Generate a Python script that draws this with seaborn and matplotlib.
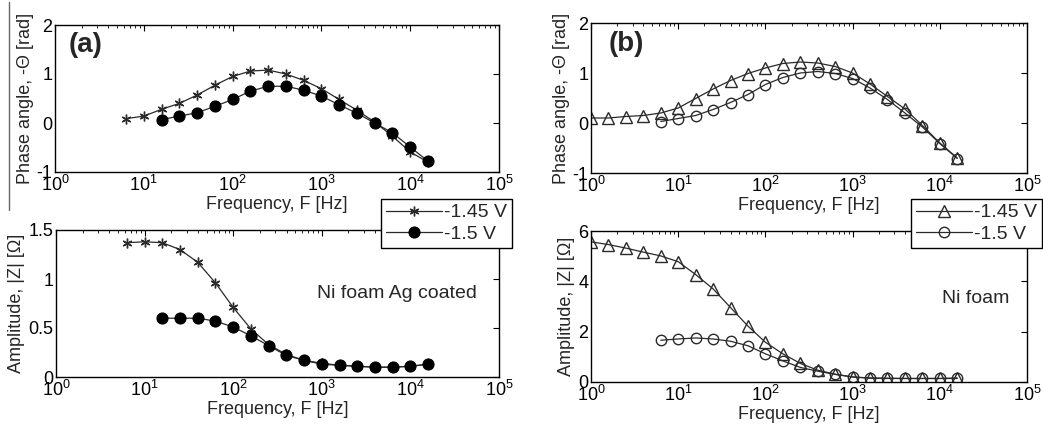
import matplotlib
matplotlib.use("Agg")
import matplotlib.pyplot as plt
from matplotlib.lines import Line2D
from matplotlib.ticker import LogLocator, NullFormatter
import seaborn as sns
import pandas as pd

sns.set_theme(style="white")
plt.rcParams['font.family'] = ['Liberation Sans', 'DejaVu Sans']
plt.rcParams['mathtext.fontset'] = 'custom'
plt.rcParams['mathtext.rm'] = 'Liberation Sans'

# ---------------- data ----------------
freq_a = [6.31, 10, 15.85, 25.12, 39.81, 63.1, 100, 158.5, 251.2, 398.1, 631, 1000,
          1585, 2512, 3981, 6310, 10000, 15849]
freq_a2 = [15.85, 25.12, 39.81, 63.1, 100, 158.5, 251.2, 398.1, 631, 1000,
           1585, 2512, 3981, 6310, 10000, 15849]
freq_b = [1, 1.585, 2.512, 3.981, 6.31, 10, 15.85, 25.12, 39.81, 63.1, 100, 158.5,
          251.2, 398.1, 631, 1000, 1585, 2512, 3981, 6310, 10000, 15849]
freq_b2 = [6.31, 10, 15.85, 25.12, 39.81, 63.1, 100, 158.5, 251.2, 398.1, 631, 1000,
           1585, 2512, 3981, 6310, 10000, 15849]

phase_a_145 = [0.09, 0.14, 0.28, 0.40, 0.57, 0.77, 0.95, 1.06, 1.08, 1.00, 0.87, 0.70,
               0.48, 0.26, 0.02, -0.27, -0.59, -0.80]
phase_a_150 = [0.07, 0.14, 0.21, 0.34, 0.48, 0.65, 0.75, 0.75, 0.67, 0.55,
               0.37, 0.20, 0.00, -0.20, -0.49, -0.78]
amp_a_145 = [1.37, 1.38, 1.37, 1.30, 1.17, 0.96, 0.71, 0.49, 0.33, 0.23, 0.17, 0.14,
             0.12, 0.11, 0.10, 0.10, 0.11, 0.13]
amp_a_150 = [0.60, 0.60, 0.60, 0.57, 0.51, 0.42, 0.32, 0.22, 0.17, 0.13,
             0.12, 0.11, 0.10, 0.10, 0.11, 0.13]

phase_b_145 = [0.10, 0.10, 0.13, 0.15, 0.20, 0.30, 0.49, 0.68, 0.85, 0.99, 1.10, 1.19,
               1.22, 1.20, 1.13, 1.00, 0.78, 0.53, 0.28, -0.05, -0.40, -0.70]
phase_b_150 = [0.03, 0.09, 0.15, 0.27, 0.41, 0.57, 0.77, 0.91, 1.00, 1.03, 0.99, 0.89,
               0.70, 0.47, 0.20, -0.08, -0.41, -0.71]
amp_b_145 = [5.57, 5.46, 5.32, 5.16, 5.01, 4.78, 4.27, 3.70, 2.96, 2.22, 1.58, 1.12,
             0.74, 0.47, 0.31, 0.20, 0.16, 0.15, 0.14, 0.14, 0.14, 0.14]
amp_b_150 = [1.66, 1.71, 1.75, 1.71, 1.62, 1.44, 1.12, 0.84, 0.58, 0.43, 0.30, 0.20,
             0.15, 0.14, 0.14, 0.14, 0.14, 0.16]

series_labels = ["-1.45 V", "-1.5 V"]
xlabel = "Frequency, F [Hz]"
ylabel_phase = "Phase angle, -\u0398 [rad]"
ylabel_amp = "Amplitude, |Z| [\u03a9]"
yticks_phase = [-1, 0, 1, 2]
yticks_amp_a = [0, 0.5, 1, 1.5]
yticks_amp_b = [0, 2, 4, 6]

# ---------------- figure ----------------
W, H = 1043, 428
fig = plt.figure(figsize=(W / 100, H / 100), dpi=100)

def rect(x0, y0, x1, y1):
    return [x0 / W, 1 - y1 / H, (x1 - x0) / W, (y1 - y0) / H]

ax_tl = fig.add_axes(rect(55, 25, 499, 172))
ax_tr = fig.add_axes(rect(591, 23, 1027, 173))
ax_bl = fig.add_axes(rect(56, 230, 499, 377))
ax_br = fig.add_axes(rect(591, 231, 1027, 382))

LC = "#2a2a2a"
star = dict(marker=(6, 2, 0), markersize=7, markeredgewidth=1.0,
            markeredgecolor=LC, markerfacecolor=LC)
dot = dict(marker="o", markersize=8, markeredgecolor="black",
           markerfacecolor="black")
tri = dict(marker="^", markersize=8.5, markeredgewidth=1.0,
           markeredgecolor=LC, markerfacecolor="none")
circ = dict(marker="o", markersize=7.5, markeredgewidth=1.0,
            markeredgecolor=LC, markerfacecolor="none")

def draw(ax, x, y, style, label):
    df = pd.DataFrame({"f": x, "v": y})
    sns.lineplot(data=df, x="f", y="v", ax=ax, color=LC, linewidth=0.9,
                 label=label, legend=False, **style)

draw(ax_tl, freq_a, phase_a_145, star, series_labels[0])
draw(ax_tl, freq_a2, phase_a_150, dot, series_labels[1])
draw(ax_bl, freq_a, amp_a_145, star, series_labels[0])
draw(ax_bl, freq_a2, amp_a_150, dot, series_labels[1])
draw(ax_tr, freq_b, phase_b_145, tri, series_labels[0])
draw(ax_tr, freq_b2, phase_b_150, circ, series_labels[1])
draw(ax_br, freq_b, amp_b_145, tri, series_labels[0])
draw(ax_br, freq_b2, amp_b_150, circ, series_labels[1])

for ax, yt, ylab in [(ax_tl, yticks_phase, ylabel_phase),
                     (ax_tr, yticks_phase, ylabel_phase),
                     (ax_bl, yticks_amp_a, ylabel_amp),
                     (ax_br, yticks_amp_b, ylabel_amp)]:
    ax.set_xscale("log")
    ax.set_xlim(1, 1e5)
    ax.set_ylim(yt[0], yt[-1])
    ax.set_yticks(yt)
    ax.set_yticklabels([("%g" % t) for t in yt])
    ax.xaxis.set_major_locator(LogLocator(base=10, numticks=10))
    ax.xaxis.set_minor_locator(LogLocator(base=10, subs=range(2, 10), numticks=20))
    ax.xaxis.set_minor_formatter(NullFormatter())
    ax.set_xlabel(xlabel, fontsize=13, labelpad=1)
    ax.set_ylabel(ylab, fontsize=13, labelpad=2)
    ax.tick_params(which="both", direction="in", top=True, right=True,
                   colors="black", labelsize=13, pad=2)
    ax.tick_params(which="major", length=4, width=0.8)
    ax.tick_params(which="minor", length=2, width=0.6)
    for s in ax.spines.values():
        s.set_color("black")
        s.set_linewidth(1.0)
    ax.set_facecolor("white")

ax_tl.text(0.03, 0.95, "(a)", transform=ax_tl.transAxes, fontsize=20,
           fontweight="bold", va="top", ha="left")
ax_tr.text(0.04, 0.95, "(b)", transform=ax_tr.transAxes, fontsize=20,
           fontweight="bold", va="top", ha="left")
ax_bl.text(0.95, 0.57, "Ni foam Ag coated", transform=ax_bl.transAxes,
           fontsize=14, ha="right", va="center")
ax_br.text(0.96, 0.55, "Ni foam", transform=ax_br.transAxes,
           fontsize=14, ha="right", va="center")

def legend(ax, x0, y0):
    h, l = ax.get_legend_handles_labels()
    leg = fig.legend(h, l, loc="upper left",
                     bbox_to_anchor=(x0 / W, 1 - y0 / H),
                     bbox_transform=fig.transFigure,
                     frameon=True, fancybox=False, fontsize=14, numpoints=1,
                     handlelength=2.9, handletextpad=0.1, borderpad=0.25,
                     labelspacing=0.2, borderaxespad=0.0, framealpha=1.0)
    leg.get_frame().set_edgecolor("black")
    leg.get_frame().set_linewidth(1.0)
    leg.set_zorder(10)
    return leg

legend(ax_bl, 381, 199)
legend(ax_br, 911, 199)

fig.add_artist(Line2D([9 / W, 9 / W], [1 - 2 / H, 1 - 210 / H],
                      color="#666666", linewidth=1.0))

fig.savefig("out.png", dpi=100, facecolor="white")
